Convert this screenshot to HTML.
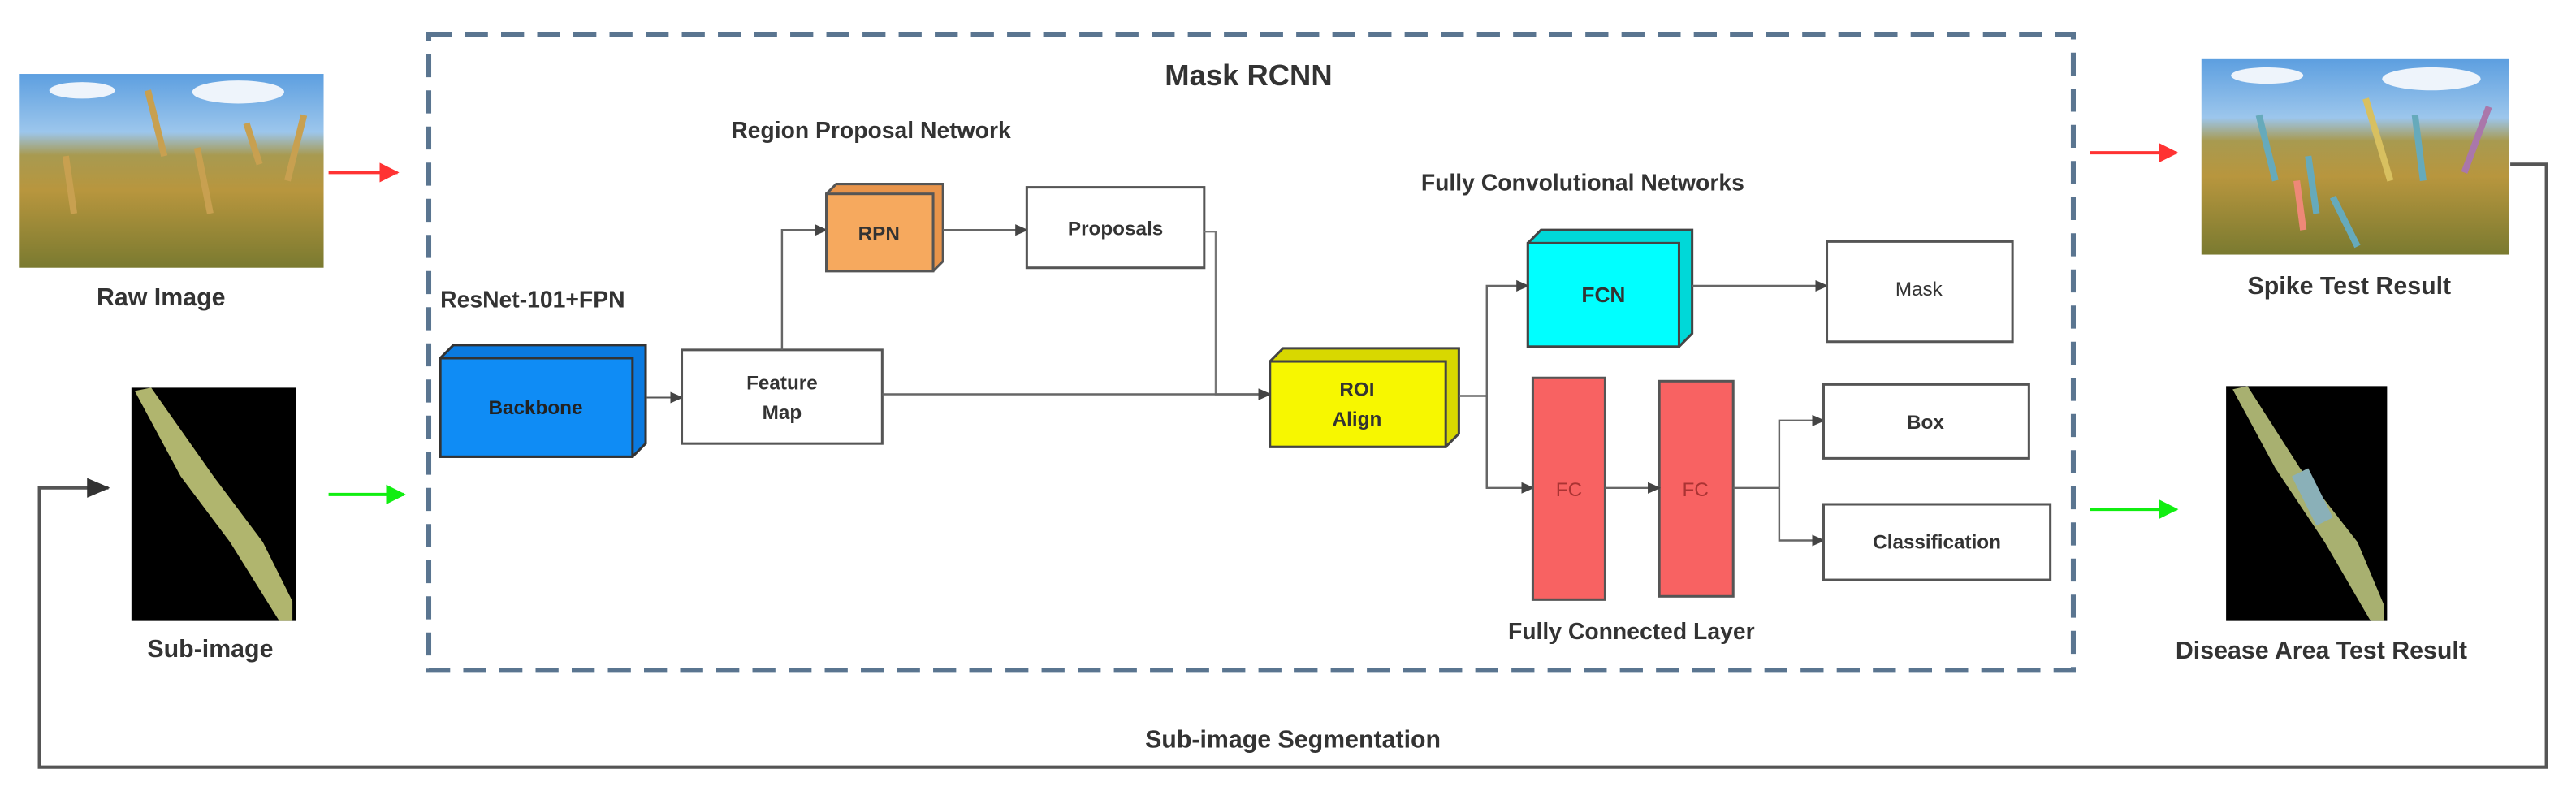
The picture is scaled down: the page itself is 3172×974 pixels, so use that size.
<!DOCTYPE html>
<html><head><meta charset="utf-8"><style>
html,body{margin:0;padding:0;background:#fff;}
svg{display:block}
text{font-family:"Liberation Sans",sans-serif;font-weight:bold;fill:#333;}
</style></head><body>
<svg width="3172" height="974" viewBox="0 0 1568 481.5" preserveAspectRatio="none" xmlns="http://www.w3.org/2000/svg">
<defs>
<linearGradient id="field" x1="0" y1="0" x2="0" y2="1">
<stop offset="0" stop-color="#5d9fe0"/><stop offset="0.3" stop-color="#9cc6ec"/><stop offset="0.42" stop-color="#a89a50"/><stop offset="0.6" stop-color="#b8963e"/><stop offset="1" stop-color="#7a7a30"/>
</linearGradient>
<marker id="ak" markerWidth="8" markerHeight="8" refX="7" refY="4" orient="auto" markerUnits="userSpaceOnUse"><path d="M0,0.5 L8,4 L0,7.5z" fill="#444"/></marker>
<marker id="ar" markerWidth="12" markerHeight="12" refX="11" refY="6" orient="auto" markerUnits="userSpaceOnUse"><path d="M0,0 L12,6 L0,12z" fill="#f33"/></marker>
<marker id="ag" markerWidth="12" markerHeight="12" refX="11" refY="6" orient="auto" markerUnits="userSpaceOnUse"><path d="M0,0 L12,6 L0,12z" fill="#1e1"/></marker>
<marker id="ab" markerWidth="14" markerHeight="12" refX="13" refY="6" orient="auto" markerUnits="userSpaceOnUse"><path d="M0,0 L14,6 L0,12z" fill="#333"/></marker>
</defs>

<rect x="261" y="21" width="1001" height="387" fill="none" stroke="#5a7590" stroke-width="3" stroke-dasharray="14,8"/>
<text x="760" y="52" font-size="18" text-anchor="middle">Mask RCNN</text>

<rect x="12" y="45" width="185" height="118" fill="url(#field)"/>
<ellipse cx="50" cy="55" rx="20" ry="5" fill="#eef4fb"/><ellipse cx="145" cy="56" rx="28" ry="7" fill="#eef4fb"/>
<path d="M90,55 L100,95 M150,75 L158,100 M185,70 L175,110 M40,95 L45,130 M120,90 L128,130" stroke="#c8a050" stroke-width="4"/>
<text x="98" y="186" font-size="15" text-anchor="middle">Raw Image</text>
<line x1="200" y1="105" x2="242" y2="105" stroke="#f33" stroke-width="2" marker-end="url(#ar)"/>

<rect x="80" y="236" width="100" height="142" fill="#000"/>
<path d="M82,238 L92,236 L130,290 L160,330 L178,366 L178,378 L170,378 L140,330 L110,290 Z" fill="#b0b56e"/>
<text x="128" y="400" font-size="15" text-anchor="middle">Sub-image</text>
<line x1="200" y1="301" x2="246" y2="301" stroke="#1e1" stroke-width="2" marker-end="url(#ag)"/>

<polyline points="1528,100 1550,100 1550,467 24,467 24,297 66,297" fill="none" stroke="#555" stroke-width="2" marker-end="url(#ab)"/>
<text x="787" y="455" font-size="15" text-anchor="middle">Sub-image Segmentation</text>

<text x="268" y="187" font-size="14">ResNet-101+FPN</text>
<path d="M268,218 L276,210 L393,210 L393,270 L385,278 L268,278 Z" fill="#0a7ae0" stroke="#333" stroke-width="1.5"/>
<rect x="268" y="218" width="117" height="60" fill="#0f8cf5" stroke="#333" stroke-width="1.5"/>
<text x="326" y="252" font-size="12" text-anchor="middle" style="fill:#222">Backbone</text>
<line x1="393" y1="242" x2="415" y2="242" stroke="#555" stroke-width="1" marker-end="url(#ak)"/>

<rect x="415" y="213" width="122" height="57" fill="#fff" stroke="#555" stroke-width="1.5"/>
<text x="476" y="237" font-size="12" text-anchor="middle">Feature</text>
<text x="476" y="255" font-size="12" text-anchor="middle">Map</text>

<polyline points="476,213 476,140 503,140" fill="none" stroke="#666" stroke-width="1.2" marker-end="url(#ak)"/>
<text x="445" y="84" font-size="14">Region Proposal Network</text>

<path d="M503,118 L509,112 L574,112 L574,159 L568,165 L503,165 Z" fill="#e8944a" stroke="#555" stroke-width="1.5"/>
<rect x="503" y="118" width="65" height="47" fill="#f6a95e" stroke="#555" stroke-width="1.5"/>
<text x="535" y="146" font-size="12" text-anchor="middle">RPN</text>
<line x1="574" y1="140" x2="625" y2="140" stroke="#666" stroke-width="1.2" marker-end="url(#ak)"/>

<rect x="625" y="114" width="108" height="49" fill="#fff" stroke="#555" stroke-width="1.5"/>
<text x="679" y="143" font-size="12" text-anchor="middle">Proposals</text>

<polyline points="733,141 740,141 740,240 773,240" fill="none" stroke="#777" stroke-width="1.2" marker-end="url(#ak)"/>
<line x1="537" y1="240" x2="773" y2="240" stroke="#666" stroke-width="1.2" marker-end="url(#ak)"/>

<path d="M773,220 L781,212 L888,212 L888,264 L880,272 L773,272 Z" fill="#d8d800" stroke="#444" stroke-width="1.5"/>
<rect x="773" y="220" width="107" height="52" fill="#f7f700" stroke="#444" stroke-width="1.5"/>
<text x="826" y="241" font-size="12" text-anchor="middle">ROI</text>
<text x="826" y="259" font-size="12" text-anchor="middle">Align</text>

<polyline points="888,241 905,241" fill="none" stroke="#666" stroke-width="1.2"/>
<polyline points="905,297 905,174 930,174" fill="none" stroke="#666" stroke-width="1.2" marker-end="url(#ak)"/>
<polyline points="905,241 905,297 933,297" fill="none" stroke="#666" stroke-width="1.2" marker-end="url(#ak)"/>

<text x="865" y="116" font-size="14">Fully Convolutional Networks</text>
<path d="M930,148 L938,140 L1030,140 L1030,203 L1022,211 L930,211 Z" fill="#00d8d8" stroke="#444" stroke-width="1.5"/>
<rect x="930" y="148" width="92" height="63" fill="#00ffff" stroke="#444" stroke-width="1.5"/>
<text x="976" y="184" font-size="13" text-anchor="middle">FCN</text>
<line x1="1030" y1="174" x2="1112" y2="174" stroke="#666" stroke-width="1.2" marker-end="url(#ak)"/>
<rect x="1112" y="147" width="113" height="61" fill="#fff" stroke="#555" stroke-width="1.5"/>
<text x="1168" y="180" font-size="12" text-anchor="middle" style="font-weight:normal">Mask</text>

<rect x="933" y="230" width="44" height="135" fill="#f86262" stroke="#555" stroke-width="1.5"/>
<rect x="1010" y="232" width="45" height="131" fill="#f86262" stroke="#555" stroke-width="1.5"/>
<text x="955" y="302" font-size="12" text-anchor="middle" style="fill:#a33;font-weight:normal">FC</text>
<text x="1032" y="302" font-size="12" text-anchor="middle" style="fill:#a33;font-weight:normal">FC</text>
<line x1="977" y1="297" x2="1010" y2="297" stroke="#666" stroke-width="1.2" marker-end="url(#ak)"/>
<line x1="1055" y1="297" x2="1083" y2="297" stroke="#666" stroke-width="1.2"/>
<polyline points="1083,297 1083,256 1110,256" fill="none" stroke="#666" stroke-width="1.2" marker-end="url(#ak)"/>
<polyline points="1083,297 1083,329 1110,329" fill="none" stroke="#666" stroke-width="1.2" marker-end="url(#ak)"/>
<rect x="1110" y="234" width="125" height="45" fill="#fff" stroke="#555" stroke-width="1.5"/>
<text x="1172" y="261" font-size="12" text-anchor="middle">Box</text>
<rect x="1110" y="307" width="138" height="46" fill="#fff" stroke="#555" stroke-width="1.5"/>
<text x="1179" y="334" font-size="12" text-anchor="middle">Classification</text>
<text x="993" y="389" font-size="14" text-anchor="middle">Fully Connected Layer</text>

<line x1="1272" y1="93" x2="1325" y2="93" stroke="#f33" stroke-width="2" marker-end="url(#ar)"/>
<rect x="1340" y="36" width="187" height="119" fill="url(#field)"/>
<ellipse cx="1380" cy="46" rx="22" ry="5" fill="#eef4fb"/><ellipse cx="1480" cy="48" rx="30" ry="7" fill="#eef4fb"/>
<path d="M1375,70 L1385,110 M1405,95 L1410,130 M1470,70 L1475,110 M1420,120 L1435,150" stroke-width="4" stroke="#6ab" fill="none"/>
<path d="M1440,60 L1455,110" stroke-width="4" stroke="#d8c060"/>
<path d="M1515,65 L1500,105" stroke-width="4" stroke="#a7a"/>
<path d="M1398,110 L1402,140" stroke="#e87" stroke-width="4"/>
<text x="1430" y="179" font-size="15" text-anchor="middle">Spike Test Result</text>

<line x1="1272" y1="310" x2="1325" y2="310" stroke="#1e1" stroke-width="2" marker-end="url(#ag)"/>
<rect x="1355" y="235" width="98" height="143" fill="#000"/>
<path d="M1359,237 L1368,235 L1400,285 L1435,330 L1451,368 L1451,378 L1443,378 L1415,330 L1385,285 Z" fill="#a8b070"/>
<path d="M1395,290 L1405,285 L1420,315 L1410,320 Z" fill="#8ab0b8"/>
<text x="1413" y="401" font-size="15" text-anchor="middle">Disease Area Test Result</text>
</svg>
</body></html>
